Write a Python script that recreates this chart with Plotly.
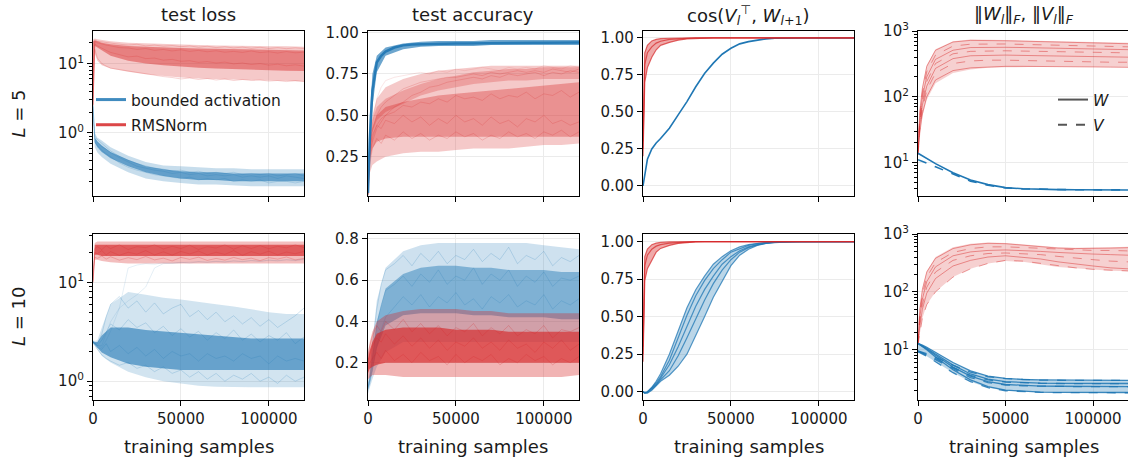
import plotly.graph_objects as go
from plotly.subplots import make_subplots

W_PX, H_PX = 1128, 462
BLUE = (31, 119, 180)
RED = (214, 39, 40)
FONT = "DejaVu Sans"

# ---------------- sample grids ----------------
GC = [0, 1000, 2500, 5000, 10000, 20000, 30000, 40000, 50000, 60000, 70000, 80000,
      90000, 100000, 110000, 120000]
G = [0, 1000, 2500, 5000, 7500, 10000, 15000, 20000, 25000, 30000, 35000, 40000, 45000,
     50000, 55000, 60000, 65000, 70000, 75000, 80000, 85000, 90000, 95000, 100000,
     105000, 110000, 115000, 120000]

# ---------------- L=5 test loss ----------------
loss5_red_hi = [22, 23, 22.5, 22, 21, 20, 19.5, 19, 18.8, 18.5, 18.3, 18, 18, 17.8, 17.8, 17.5]
loss5_red_lo = [2.5, 14, 11, 9.5, 8.5, 7.6, 7.0, 6.6, 6.3, 6.1, 6.0, 5.9, 5.8, 5.7, 5.6, 5.5]
loss5_red_chi = [21, 21.5, 21, 20, 19, 18, 17.5, 17, 16.8, 16.5, 16.3, 16, 16, 15.8, 15.8, 15.5]
loss5_red_clo = [2.5, 18, 17, 15.5, 13, 11, 10, 9.5, 9, 8.7, 8.5, 8.3, 8.1, 8, 7.9, 7.8]
loss5_red_runs = [
    [2.5, 22, 21, 20.5, 20, 19.5, 19, 18.5, 19, 18, 18.5, 17.8, 18.2, 17.5, 18, 17.2, 17.8, 17, 17.5, 16.8, 17.3, 16.6, 17.2, 16.5, 17, 16.4, 16.9, 16.5],
    [2.5, 21, 20, 19, 18.5, 18, 17, 16.8, 16, 16.5, 15.5, 16, 15.2, 15.8, 15, 15.5, 14.8, 15.3, 14.6, 15, 14.5, 15.2, 14.4, 14.8, 14.2, 14.9, 14.3, 14.6],
    [2.5, 19, 18, 16.5, 15.5, 14.5, 13.5, 12.5, 12.8, 11.8, 12, 11.2, 11.5, 10.8, 11, 10.4, 10.7, 10.2, 10.5, 9.9, 10.2, 9.7, 10, 9.5, 9.8, 9.3, 9.6, 9.2],
    [2.5, 16, 12, 10, 9.2, 8.6, 8.2, 7.8, 7.4, 7.2, 6.8, 6.5, 6.3, 6.0, 6.2, 5.9, 6.1, 5.8, 6.0, 5.7, 5.9, 5.7, 5.8, 5.6, 5.7, 5.5, 5.7, 5.5],
]
loss5_blue_hi = [2.6, 1.0, 0.85, 0.78, 0.62, 0.47, 0.38, 0.34, 0.33, 0.32, 0.31, 0.31, 0.3, 0.3, 0.3, 0.3]
loss5_blue_lo = [2.3, 0.62, 0.52, 0.45, 0.36, 0.27, 0.22, 0.2, 0.19, 0.18, 0.18, 0.175, 0.17, 0.17, 0.17, 0.17]
loss5_blue_chi = [2.5, 0.85, 0.75, 0.66, 0.53, 0.41, 0.33, 0.3, 0.28, 0.27, 0.27, 0.26, 0.26, 0.26, 0.26, 0.26]
loss5_blue_clo = [2.4, 0.72, 0.62, 0.53, 0.43, 0.33, 0.27, 0.24, 0.22, 0.21, 0.21, 0.2, 0.2, 0.2, 0.2, 0.2]
loss5_blue_runs = [
    [2.5, 0.85, 0.74, 0.63, 0.58, 0.52, 0.44, 0.38, 0.33, 0.31, 0.29, 0.28, 0.26, 0.27, 0.25, 0.26, 0.24, 0.25, 0.24, 0.25, 0.23, 0.24, 0.23, 0.24, 0.22, 0.24, 0.23, 0.22],
    [2.4, 0.75, 0.66, 0.56, 0.5, 0.45, 0.37, 0.32, 0.29, 0.27, 0.25, 0.24, 0.23, 0.22, 0.23, 0.21, 0.22, 0.21, 0.22, 0.2, 0.21, 0.2, 0.21, 0.19, 0.2, 0.2, 0.19, 0.2],
    [2.5, 0.9, 0.8, 0.7, 0.62, 0.55, 0.46, 0.4, 0.36, 0.33, 0.31, 0.3, 0.28, 0.29, 0.27, 0.28, 0.26, 0.27, 0.26, 0.27, 0.25, 0.26, 0.25, 0.26, 0.24, 0.25, 0.26, 0.24],
]

# ---------------- L=5 test accuracy ----------------
acc5_blue_hi = [0.05, 0.5, 0.75, 0.86, 0.91, 0.935, 0.945, 0.95, 0.95, 0.95, 0.955, 0.955, 0.955, 0.955, 0.955, 0.955]
acc5_blue_lo = [0.0, 0.2, 0.55, 0.76, 0.86, 0.9, 0.915, 0.92, 0.92, 0.92, 0.925, 0.925, 0.925, 0.925, 0.925, 0.925]
acc5_blue_mean = [0.03, 0.35, 0.65, 0.82, 0.86, 0.885, 0.91, 0.923, 0.928, 0.93, 0.932, 0.933, 0.934, 0.935, 0.935, 0.936, 0.936, 0.937, 0.937, 0.938, 0.938, 0.938, 0.939, 0.939, 0.939, 0.94, 0.94, 0.94]
acc5_red_hi = [0.05, 0.35, 0.5, 0.6, 0.67, 0.72, 0.75, 0.77, 0.78, 0.79, 0.8, 0.8, 0.8, 0.8, 0.8, 0.8]
acc5_red_lo = [0.0, 0.15, 0.2, 0.22, 0.25, 0.27, 0.28, 0.28, 0.29, 0.3, 0.3, 0.3, 0.31, 0.32, 0.32, 0.33]
acc5_red_chi = [0.03, 0.3, 0.42, 0.5, 0.55, 0.58, 0.6, 0.62, 0.63, 0.64, 0.65, 0.66, 0.67, 0.68, 0.69, 0.7]
acc5_red_clo = [0.02, 0.22, 0.3, 0.34, 0.36, 0.37, 0.37, 0.37, 0.37, 0.37, 0.37, 0.37, 0.37, 0.37, 0.37, 0.37]
acc5_red_up_lo = [0.02, 0.28, 0.4, 0.47, 0.52, 0.57, 0.62, 0.65, 0.67, 0.69, 0.7, 0.71, 0.71, 0.72, 0.72, 0.72]
acc5_red_up_hi = [0.03, 0.33, 0.47, 0.55, 0.6, 0.65, 0.69, 0.72, 0.74, 0.76, 0.77, 0.78, 0.78, 0.79, 0.79, 0.79]
acc5_red_runs = [
    [0.02, 0.3, 0.42, 0.5, 0.55, 0.58, 0.62, 0.66, 0.68, 0.7, 0.71, 0.72, 0.73, 0.73, 0.74, 0.75, 0.74, 0.76, 0.75, 0.76, 0.77, 0.76, 0.77, 0.76, 0.78, 0.77, 0.76, 0.78],
    [0.02, 0.25, 0.36, 0.44, 0.48, 0.5, 0.55, 0.58, 0.62, 0.64, 0.67, 0.68, 0.7, 0.71, 0.72, 0.73, 0.72, 0.74, 0.73, 0.75, 0.74, 0.75, 0.76, 0.74, 0.76, 0.75, 0.77, 0.76],
    [0.02, 0.24, 0.34, 0.42, 0.46, 0.5, 0.52, 0.56, 0.55, 0.58, 0.57, 0.6, 0.58, 0.62, 0.6, 0.61, 0.59, 0.63, 0.6, 0.62, 0.61, 0.64, 0.6, 0.63, 0.62, 0.65, 0.61, 0.64],
    [0.02, 0.28, 0.38, 0.44, 0.42, 0.47, 0.45, 0.5, 0.46, 0.49, 0.44, 0.48, 0.45, 0.5, 0.46, 0.48, 0.44, 0.49, 0.45, 0.47, 0.43, 0.48, 0.46, 0.5, 0.45, 0.47, 0.44, 0.46],
    [0.02, 0.2, 0.3, 0.36, 0.33, 0.38, 0.35, 0.4, 0.36, 0.39, 0.35, 0.38, 0.36, 0.4, 0.37, 0.39, 0.35, 0.38, 0.36, 0.4, 0.37, 0.39, 0.36, 0.4, 0.38, 0.41, 0.37, 0.4],
]
acc5_red_outlier = [0.02, 0.3, 0.45, 0.6, 0.67, 0.71, 0.73, 0.74, 0.75, 0.76, 0.75, 0.77, 0.76, 0.78, 0.77, 0.78, 0.79, 0.78, 0.77, 0.79, 0.78, 0.79, 0.78, 0.8, 0.79, 0.78, 0.8, 0.79]

# ---------------- L=5 cosine ----------------
cos5_red_runs = [
    [0.3, 0.9, 0.95, 0.98, 0.99, 0.995, 0.998, 1, 1, 1, 1, 1, 1, 1, 1, 1, 1, 1, 1, 1, 1, 1, 1, 1, 1, 1, 1, 1],
    [0.25, 0.82, 0.9, 0.94, 0.965, 0.978, 0.99, 0.995, 0.998, 1, 1, 1, 1, 1, 1, 1, 1, 1, 1, 1, 1, 1, 1, 1, 1, 1, 1, 1],
    [0.2, 0.7, 0.8, 0.87, 0.92, 0.95, 0.97, 0.985, 0.993, 0.997, 1, 1, 1, 1, 1, 1, 1, 1, 1, 1, 1, 1, 1, 1, 1, 1, 1, 1],
]
cos5_blue = [0.0, 0.08, 0.18, 0.25, 0.29, 0.32, 0.39, 0.48, 0.57, 0.67, 0.76, 0.83, 0.89, 0.93, 0.96, 0.975, 0.987, 0.994, 0.998, 1, 1, 1, 1, 1, 1, 1, 1, 1]

# ---------------- L=5 norms ----------------
norm5_red_W = [
    [16, 60, 135, 290, 510, 680, 720, 720, 710, 700, 690, 680, 670, 660, 650, 640],
    [15, 50, 115, 240, 430, 590, 630, 640, 635, 625, 615, 605, 595, 590, 580, 575],
    [15, 45, 100, 200, 370, 510, 560, 570, 565, 560, 555, 550, 540, 530, 525, 520],
    [14, 40, 85, 170, 320, 450, 490, 500, 500, 495, 490, 485, 480, 475, 470, 465],
    [14, 35, 75, 145, 270, 380, 420, 430, 430, 425, 420, 415, 410, 405, 400, 400],
    [13, 32, 65, 125, 230, 320, 350, 360, 360, 355, 350, 345, 340, 340, 335, 335],
    [13, 28, 55, 100, 180, 250, 275, 285, 290, 290, 290, 288, 286, 284, 282, 280],
]
norm5_red_hi = [17, 60, 140, 300, 530, 700, 740, 740, 730, 720, 710, 700, 690, 680, 670, 660]
norm5_red_lo = [13, 28, 50, 90, 160, 230, 260, 275, 280, 285, 285, 285, 285, 280, 280, 280]
norm5_blue_W = [13.8, 13.3, 12.6, 11.5, 9.6, 7.0, 5.4, 4.6, 4.15, 3.98, 3.9, 3.87, 3.85, 3.84, 3.83, 3.82]
norm5_blue_V = [11, 10.8, 10.4, 9.8, 8.6, 6.6, 5.2, 4.5, 4.1, 3.96, 3.9, 3.87, 3.85, 3.84, 3.83, 3.82]

# ---------------- L=10 test loss ----------------
loss10_red_hi = [11, 25, 26, 26, 26, 26, 26, 26, 26, 26, 26, 26, 26, 26, 26, 26]
loss10_red_lo = [10, 17, 17, 16.5, 16, 15.5, 15.5, 15.5, 15.5, 15.5, 15.5, 15.5, 15.5, 15.5, 15.5, 15.5]
loss10_red_chi = [10.5, 24, 24, 24, 24, 24, 24, 24, 24, 24, 24, 24, 24, 24, 24, 24]
loss10_red_clo = [10, 19, 19, 18.5, 18.5, 18.5, 18.5, 18.5, 18.5, 18.5, 18.5, 18.5, 18.5, 18.5, 18.5, 18.5]
loss10_red_runs = [
    [10.5, 22, 23, 21.5, 23.5, 22, 24, 21.5, 23, 22.5, 24, 21.8, 23.2, 22, 23.8, 21.5, 23, 22.3, 24, 21.7, 23.5, 22, 23.6, 21.9, 23.2, 22.4, 24, 22.5],
    [10, 20, 19.5, 21, 19, 20.5, 18.8, 20.2, 19.3, 21, 19, 20.4, 18.9, 20.6, 19.4, 20.8, 19, 20.2, 19.2, 21, 18.8, 20.5, 19.3, 20.7, 19, 20.3, 19.5, 20.6],
    [10, 18, 17.5, 18.5, 17.2, 18.2, 16.8, 17.8, 17, 18.3, 16.9, 17.6, 16.5, 17.9, 17.1, 18, 16.7, 17.5, 16.8, 17.9, 17, 17.6, 16.6, 17.8, 17.2, 18.1, 16.9, 17.5],
]
loss10_blue_hi = [2.6, 2.55, 2.6, 3.5, 6, 8, 7.5, 7, 6.7, 6.3, 6, 5.7, 5.3, 5, 4.8, 4.8]
loss10_blue_lo = [2.4, 2.3, 2.1, 1.8, 1.55, 1.25, 1.1, 1.0, 0.95, 0.9, 0.88, 0.87, 0.87, 0.87, 0.87, 0.87]
loss10_blue_chi = [2.55, 2.5, 2.5, 2.9, 3.5, 3.5, 3.3, 3.2, 3.1, 3.0, 2.9, 2.8, 2.7, 2.7, 2.7, 2.7]
loss10_blue_clo = [2.45, 2.35, 2.2, 1.95, 1.75, 1.5, 1.4, 1.35, 1.3, 1.3, 1.3, 1.3, 1.3, 1.3, 1.3, 1.3]
loss10_blue_runs = [
    [2.5, 2.4, 2.3, 2.6, 3.2, 3.8, 3.3, 4.2, 3.5, 3.9, 3.1, 3.6, 2.9, 3.4, 2.8, 3.2, 2.6, 3.1, 2.7, 3.3, 2.6, 3.0, 2.5, 2.9, 2.6, 3.1, 2.4, 2.8],
    [2.5, 2.35, 2.2, 2.1, 2.4, 2.0, 2.3, 1.9, 2.2, 1.8, 2.1, 1.7, 2.0, 1.8, 1.9, 1.6, 1.9, 1.7, 1.8, 1.6, 1.9, 1.7, 1.8, 1.5, 1.8, 1.6, 1.7, 1.6],
    [2.45, 2.3, 2.1, 1.85, 1.7, 1.6, 1.45, 1.55, 1.35, 1.45, 1.25, 1.4, 1.2, 1.3, 1.1, 1.25, 1.05, 1.2, 1.0, 1.15, 1.05, 1.2, 1.0, 1.1, 0.95, 1.15, 1.0, 1.1],
    [2.5, 2.4, 2.4, 3.0, 4.5, 6.0, 7.2, 5.5, 6.5, 5.0, 6.2, 4.8, 5.5, 6.0, 4.5, 5.2, 4.2, 5.0, 4.0, 4.6, 3.8, 4.4, 3.6, 4.2, 3.5, 4.0, 4.6, 5.5],
]
loss10_blue_outliers = [
    [2.5, 2.4, 2.3, 2.2, 2.6, 3.2, 5.5, 14, 15, 15.5, 15.3, 15.8, 15.6, 16, 15.7, 16.2, 15.9, 16.3, 16, 16.5, 16.2, 16.6, 16.3, 16.8, 16.5, 16.9, 16.6, 17],
    [2.5, 2.4, 2.3, 2.3, 3.0, 4.0, 5.5, 6.5, 7.5, 9.0, 14, 15.5, 15.7, 15.9, 16, 16.2, 16.1, 16.4, 16.2, 16.5, 16.3, 16.7, 16.4, 16.8, 16.6, 17, 16.8, 17.2],
]

# ---------------- L=10 test accuracy ----------------
acc10_blue_hi = [0.1, 0.15, 0.3, 0.5, 0.66, 0.74, 0.77, 0.78, 0.78, 0.78, 0.78, 0.78, 0.78, 0.77, 0.76, 0.75]
acc10_blue_chi = [0.09, 0.13, 0.24, 0.4, 0.56, 0.63, 0.66, 0.67, 0.67, 0.66, 0.66, 0.65, 0.65, 0.65, 0.64, 0.64]
acc10_blue_clo = [0.07, 0.1, 0.16, 0.27, 0.38, 0.43, 0.44, 0.44, 0.44, 0.43, 0.43, 0.42, 0.42, 0.42, 0.41, 0.41]
acc10_blue_lo = [0.05, 0.08, 0.12, 0.18, 0.25, 0.3, 0.3, 0.3, 0.3, 0.3, 0.3, 0.3, 0.3, 0.3, 0.3, 0.3]
acc10_blue_runs = [
    [0.08, 0.12, 0.22, 0.38, 0.48, 0.55, 0.58, 0.62, 0.57, 0.63, 0.59, 0.65, 0.58, 0.62, 0.6, 0.66, 0.58, 0.63, 0.6, 0.65, 0.57, 0.62, 0.59, 0.64, 0.57, 0.61, 0.6, 0.62],
    [0.07, 0.1, 0.16, 0.28, 0.36, 0.42, 0.47, 0.52, 0.48, 0.53, 0.47, 0.52, 0.49, 0.54, 0.48, 0.51, 0.46, 0.52, 0.49, 0.53, 0.47, 0.5, 0.48, 0.53, 0.46, 0.5, 0.48, 0.51],
    [0.09, 0.14, 0.28, 0.46, 0.58, 0.65, 0.68, 0.72, 0.67, 0.73, 0.69, 0.74, 0.68, 0.72, 0.7, 0.75, 0.69, 0.73, 0.7, 0.76, 0.68, 0.72, 0.7, 0.74, 0.67, 0.71, 0.69, 0.72],
]
acc10_red_hi = [0.25, 0.3, 0.35, 0.4, 0.43, 0.45, 0.46, 0.46, 0.46, 0.45, 0.45, 0.44, 0.44, 0.44, 0.44, 0.44]
acc10_red_lo = [0.12, 0.13, 0.14, 0.14, 0.14, 0.13, 0.13, 0.13, 0.13, 0.13, 0.13, 0.13, 0.13, 0.13, 0.13, 0.14]
acc10_red_chi = [0.22, 0.26, 0.3, 0.34, 0.36, 0.37, 0.37, 0.37, 0.36, 0.36, 0.36, 0.35, 0.35, 0.35, 0.35, 0.35]
acc10_red_clo = [0.15, 0.17, 0.18, 0.19, 0.2, 0.2, 0.2, 0.2, 0.2, 0.2, 0.2, 0.2, 0.2, 0.2, 0.2, 0.2]
acc10_red_runs = [
    [0.2, 0.24, 0.28, 0.32, 0.3, 0.34, 0.29, 0.33, 0.28, 0.32, 0.27, 0.31, 0.26, 0.3, 0.28, 0.32, 0.27, 0.3, 0.26, 0.31, 0.27, 0.29, 0.25, 0.3, 0.27, 0.31, 0.26, 0.29],
    [0.17, 0.2, 0.22, 0.25, 0.22, 0.26, 0.21, 0.24, 0.2, 0.25, 0.21, 0.23, 0.19, 0.24, 0.2, 0.23, 0.21, 0.24, 0.19, 0.22, 0.2, 0.24, 0.21, 0.23, 0.19, 0.22, 0.2, 0.23],
    [0.23, 0.28, 0.33, 0.38, 0.35, 0.4, 0.36, 0.41, 0.35, 0.39, 0.34, 0.38, 0.33, 0.37, 0.35, 0.39, 0.33, 0.37, 0.34, 0.38, 0.33, 0.36, 0.34, 0.38, 0.32, 0.36, 0.35, 0.37],
]

# ---------------- L=10 cosine ----------------
cos10_red_runs = [
    [0.3, 0.9, 0.95, 0.98, 0.99, 0.995, 0.998, 1, 1, 1, 1, 1, 1, 1, 1, 1, 1, 1, 1, 1, 1, 1, 1, 1, 1, 1, 1, 1],
    [0.25, 0.84, 0.91, 0.95, 0.97, 0.98, 0.99, 0.995, 0.998, 1, 1, 1, 1, 1, 1, 1, 1, 1, 1, 1, 1, 1, 1, 1, 1, 1, 1, 1],
    [0.2, 0.74, 0.82, 0.88, 0.93, 0.955, 0.975, 0.988, 0.995, 0.998, 1, 1, 1, 1, 1, 1, 1, 1, 1, 1, 1, 1, 1, 1, 1, 1, 1, 1],
]
cos10_blue_runs = [
    [0, -0.005, 0.0, 0.03, 0.07, 0.12, 0.25, 0.41, 0.56, 0.68, 0.77, 0.85, 0.9, 0.94, 0.965, 0.98, 0.99, 0.995, 0.998, 1, 1, 1, 1, 1, 1, 1, 1, 1],
    [0, -0.005, 0.0, 0.025, 0.06, 0.1, 0.21, 0.36, 0.51, 0.64, 0.74, 0.82, 0.88, 0.93, 0.955, 0.975, 0.987, 0.994, 0.997, 1, 1, 1, 1, 1, 1, 1, 1, 1],
    [0, -0.005, -0.005, 0.02, 0.05, 0.09, 0.18, 0.3, 0.44, 0.57, 0.68, 0.77, 0.85, 0.9, 0.94, 0.965, 0.98, 0.99, 0.996, 0.999, 1, 1, 1, 1, 1, 1, 1, 1],
    [0, -0.01, -0.005, 0.015, 0.045, 0.08, 0.14, 0.24, 0.36, 0.49, 0.61, 0.72, 0.81, 0.88, 0.93, 0.96, 0.978, 0.99, 0.995, 0.998, 1, 1, 1, 1, 1, 1, 1, 1],
    [0, -0.01, -0.01, 0.01, 0.04, 0.07, 0.11, 0.17, 0.25, 0.37, 0.5, 0.63, 0.74, 0.84, 0.91, 0.95, 0.975, 0.988, 0.995, 0.998, 1, 1, 1, 1, 1, 1, 1, 1],
]

# ---------------- L=10 norms ----------------
norm10_red_W = [
    [14, 50, 110, 220, 380, 560, 650, 690, 680, 640, 600, 570, 560, 560, 570, 580],
    [13, 42, 90, 180, 320, 480, 560, 600, 600, 580, 560, 540, 530, 520, 520, 510],
    [13, 36, 75, 150, 270, 420, 490, 520, 530, 520, 500, 480, 460, 450, 440, 430],
    [13, 30, 60, 120, 220, 350, 420, 460, 470, 460, 440, 410, 380, 360, 340, 330],
    [13, 25, 50, 95, 170, 280, 350, 400, 420, 400, 370, 330, 300, 280, 260, 250],
    [12, 20, 35, 60, 100, 180, 250, 310, 350, 340, 310, 280, 260, 245, 235, 230],
]
norm10_red_hi = [14, 52, 115, 230, 400, 590, 680, 710, 700, 660, 620, 590, 580, 580, 590, 600]
norm10_red_lo = [12, 20, 35, 60, 100, 180, 250, 310, 340, 330, 300, 270, 255, 240, 232, 228]
norm10_blue_W = [
    [12.8, 12.5, 12, 11, 9, 6, 4.3, 3.5, 3.2, 3.05, 3.0, 2.98, 2.96, 2.95, 2.95, 2.95],
    [12.8, 12.4, 11.8, 10.6, 8.4, 5.4, 3.8, 3.1, 2.8, 2.7, 2.65, 2.62, 2.6, 2.6, 2.6, 2.6],
    [12.8, 12.3, 11.6, 10.3, 8.0, 5.0, 3.5, 2.8, 2.5, 2.4, 2.35, 2.33, 2.32, 2.3, 2.3, 2.3],
    [12.8, 12.2, 11.4, 10.0, 7.5, 4.5, 3.0, 2.3, 2.0, 1.9, 1.85, 1.83, 1.82, 1.82, 1.82, 1.82],
]
norm10_blue_V = [
    [9.5, 9.3, 9.0, 8.5, 7.4, 5.4, 4.1, 3.4, 3.15, 3.02, 2.98, 2.96, 2.95, 2.94, 2.94, 2.94],
    [9.4, 9.2, 8.8, 8.2, 7.0, 4.9, 3.6, 3.0, 2.75, 2.66, 2.62, 2.6, 2.58, 2.58, 2.58, 2.58],
    [9.3, 9.1, 8.7, 8.0, 6.7, 4.6, 3.3, 2.7, 2.45, 2.37, 2.33, 2.31, 2.3, 2.3, 2.3, 2.3],
    [9.2, 8.9, 8.5, 7.7, 6.2, 4.0, 2.8, 2.2, 1.95, 1.87, 1.83, 1.81, 1.8, 1.8, 1.8, 1.8],
]

# ---------------- text ----------------
col_titles = ["test loss", "test accuracy",
              "cos(<i>V</i><sub><i>l</i></sub><sup>⊤</sup>, <i>W</i><sub><i>l</i>+1</sub>)",
              "‖<i>W</i><sub><i>l</i></sub>‖<sub><i>F</i></sub>, ‖<i>V</i><sub><i>l</i></sub>‖<sub><i>F</i></sub>"]
row_titles = ["<i>L</i> = 5", "<i>L</i> = 10"]
x_label = "training samples"
legend_names = ["bounded activation", "RMSNorm"]
x_ticks = [0, 50000, 100000]


def rgba(c, a):
    return f"rgba({c[0]},{c[1]},{c[2]},{a})"


fig = make_subplots(rows=2, cols=4)


def band(r, c, x, lo, hi, color, alpha):
    fig.add_trace(go.Scatter(x=x, y=lo, mode="lines", line=dict(width=0, color=rgba(color, 0)),
                             showlegend=False, hoverinfo="skip"), row=r, col=c)
    fig.add_trace(go.Scatter(x=x, y=hi, mode="lines", line=dict(width=0, color=rgba(color, 0)),
                             fill="tonexty", fillcolor=rgba(color, alpha),
                             showlegend=False, hoverinfo="skip"), row=r, col=c)


def line(r, c, x, y, color, alpha, width=1.0, dash="solid"):
    fig.add_trace(go.Scatter(x=x, y=y, mode="lines",
                             line=dict(width=width, color=rgba(color, alpha), dash=dash),
                             showlegend=False, hoverinfo="skip"), row=r, col=c)


# (1,1) loss L=5
band(1, 1, GC, loss5_blue_lo, loss5_blue_hi, BLUE, 0.25)
band(1, 1, GC, loss5_blue_clo, loss5_blue_chi, BLUE, 0.6)
for y in loss5_blue_runs:
    line(1, 1, G, y, BLUE, 0.25, width=0.8)
band(1, 1, GC, loss5_red_lo, loss5_red_hi, RED, 0.25)
band(1, 1, GC, loss5_red_clo, loss5_red_chi, RED, 0.45)
for y in loss5_red_runs:
    line(1, 1, G, y, RED, 0.25, width=0.8)

# (1,2) acc L=5
band(1, 2, GC, acc5_red_lo, acc5_red_hi, RED, 0.25)
band(1, 2, GC, acc5_red_clo, acc5_red_chi, RED, 0.35)
band(1, 2, GC, acc5_red_up_lo, acc5_red_up_hi, RED, 0.25)
for y in acc5_red_runs:
    line(1, 2, G, y, RED, 0.25, width=0.8)
line(1, 2, G, acc5_red_outlier, RED, 0.15, width=0.8)
band(1, 2, GC, acc5_blue_lo, acc5_blue_hi, BLUE, 0.65)
line(1, 2, G, acc5_blue_mean, BLUE, 0.9, width=2.5)

# (1,3) cos L=5
line(1, 3, G, cos5_blue, BLUE, 1.0, width=1.6)
band(1, 3, G, cos5_red_runs[2], cos5_red_runs[0], RED, 0.4)
for y in cos5_red_runs:
    line(1, 3, G, y, RED, 0.7, width=1.2)

# (1,4) norms L=5
band(1, 4, GC, norm5_red_lo, norm5_red_hi, RED, 0.22)
for i, y in enumerate(norm5_red_W):
    line(1, 4, GC, y, RED, 0.45, dash="solid" if i % 2 == 0 else "dash")
line(1, 4, GC, norm5_blue_W, BLUE, 1.0, width=1.6)
line(1, 4, GC, norm5_blue_V, BLUE, 1.0, width=1.6, dash="dash")

# (2,1) loss L=10
band(2, 1, GC, loss10_blue_lo, loss10_blue_hi, BLUE, 0.2)
band(2, 1, GC, loss10_blue_clo, loss10_blue_chi, BLUE, 0.6)
for y in loss10_blue_runs:
    line(2, 1, G, y, BLUE, 0.25, width=0.8)
for y in loss10_blue_outliers:
    line(2, 1, G, y, BLUE, 0.15, width=0.8)
band(2, 1, GC, loss10_red_lo, loss10_red_hi, RED, 0.3)
band(2, 1, GC, loss10_red_clo, loss10_red_chi, RED, 0.65)
for y in loss10_red_runs:
    line(2, 1, G, y, RED, 0.3, width=0.8)

# (2,2) acc L=10
band(2, 2, GC, acc10_blue_lo, acc10_blue_hi, BLUE, 0.22)
band(2, 2, GC, acc10_blue_clo, acc10_blue_chi, BLUE, 0.45)
for y in acc10_blue_runs:
    line(2, 2, G, y, BLUE, 0.25, width=0.8)
band(2, 2, GC, acc10_red_lo, acc10_red_hi, RED, 0.35)
band(2, 2, GC, acc10_red_clo, acc10_red_chi, RED, 0.65)
for y in acc10_red_runs:
    line(2, 2, G, y, RED, 0.3, width=0.8)

# (2,3) cos L=10
band(2, 3, G, cos10_blue_runs[4], cos10_blue_runs[0], BLUE, 0.3)
for y in cos10_blue_runs:
    line(2, 3, G, y, BLUE, 0.75, width=1.2)
band(2, 3, G, cos10_red_runs[2], cos10_red_runs[0], RED, 0.4)
for y in cos10_red_runs:
    line(2, 3, G, y, RED, 0.7, width=1.2)

# (2,4) norms L=10
band(2, 4, GC, norm10_red_lo, norm10_red_hi, RED, 0.22)
for i, y in enumerate(norm10_red_W):
    line(2, 4, GC, y, RED, 0.45, dash="solid" if i % 2 == 0 else "dash")
band(2, 4, GC, norm10_blue_V[3], norm10_blue_W[0], BLUE, 0.3)
for y in norm10_blue_W:
    line(2, 4, GC, y, BLUE, 0.85, width=1.3)
for y in norm10_blue_V:
    line(2, 4, GC, y, BLUE, 0.85, width=1.3, dash="dash")

# legends
for name, col, grp in [(legend_names[0], BLUE, "a"), (legend_names[1], RED, "b")]:
    fig.add_trace(go.Scatter(x=[None], y=[None], mode="lines", name=name, legendgroup=grp,
                             line=dict(width=3, color=rgba(col, 0.85)), legend="legend"),
                  row=1, col=1)
for name, dash, grp in [("<i>W</i>", "solid", "w"), ("<i>V</i>", "dash", "v")]:
    fig.add_trace(go.Scatter(x=[None], y=[None], mode="lines", name=name, legendgroup=grp,
                             line=dict(width=2, color="#555555", dash=dash), legend="legend2"),
                  row=1, col=4)

# ---------------- layout ----------------
col_px = [(93, 304), (368, 579), (643, 854), (918, 1128)]
row_px = [(31, 196), (234, 400)]

y_ranges = {
    (1, 1): [-0.91, 1.47], (1, 2): [0.012, 1.01], (1, 3): [-0.068, 1.047], (1, 4): [0.49, 3.0],
    (2, 1): [-0.19, 1.49], (2, 2): [0.019, 0.824], (2, 3): [-0.055, 1.051], (2, 4): [0.13, 3.0],
}
log_cells = {(1, 1), (1, 4), (2, 1), (2, 4)}

axis_common = dict(showline=True, linecolor="black", linewidth=1.25, mirror=True,
                   ticks="outside", ticklen=5, tickwidth=1.2, tickcolor="black",
                   showgrid=True, gridcolor="#ebebeb", gridwidth=1, zeroline=False,
                   automargin=False,
                   tickfont=dict(family=FONT, size=15, color="#1a1a1a"))

minor_vals = [m * 10 ** e for e in range(-1, 3) for m in range(2, 10)]

for r in (1, 2):
    for c in (1, 2, 3, 4):
        x0, x1 = col_px[c - 1]
        ytop, ybot = row_px[r - 1]
        xa = dict(axis_common)
        xa.update(domain=[x0 / W_PX, x1 / W_PX], range=[0, 120000], tickmode="array",
                  tickvals=x_ticks, ticktext=[str(v) for v in x_ticks],
                  showticklabels=(r == 2))
        fig.update_xaxes(xa, row=r, col=c)
        ya = dict(axis_common)
        ya.update(domain=[1 - ybot / H_PX, 1 - ytop / H_PX], range=y_ranges[(r, c)])
        if c == 4:
            ya.update(mirror=False)
        if (r, c) in log_cells:
            if c == 1:
                tv = [1, 10]
                tt = ["10<sup>0</sup>", "10<sup>1</sup>"]
            else:
                tv = [10, 100, 1000]
                tt = ["10<sup>1</sup>", "10<sup>2</sup>", "10<sup>3</sup>"]
            ya.update(type="log", tickmode="array", tickvals=tv, ticktext=tt,
                      minor=dict(tickmode="array", tickvals=minor_vals, ticks="outside",
                                 ticklen=3, tickwidth=1, tickcolor="black", showgrid=False))
        elif c == 2 and r == 2:
            ya.update(tickmode="array", tickvals=[0.2, 0.4, 0.6, 0.8], tickformat=".1f")
        elif c == 2:
            ya.update(tickmode="array", tickvals=[0.25, 0.5, 0.75, 1.0], tickformat=".2f")
        else:
            ya.update(tickmode="array", tickvals=[0.0, 0.25, 0.5, 0.75, 1.0], tickformat=".2f")
        fig.update_yaxes(ya, row=r, col=c)

annotations = []
for c, t in enumerate(col_titles):
    x0, x1 = col_px[c]
    xc = (x0 + x1) / 2 if c < 3 else (918 + 1129) / 2
    annotations.append(dict(text=t, x=xc / W_PX, y=1 - 15 / H_PX, xref="paper", yref="paper",
                            xanchor="center", yanchor="middle", showarrow=False,
                            font=dict(family=FONT, size=18, color="#1a1a1a")))
for r, t in enumerate(row_titles):
    ytop, ybot = row_px[r]
    annotations.append(dict(text=t, x=18 / W_PX, y=1 - (ytop + ybot) / 2 / H_PX, xref="paper",
                            yref="paper", xanchor="center", yanchor="middle", textangle=-90,
                            showarrow=False, font=dict(family=FONT, size=18, color="#1a1a1a")))
for c in range(4):
    x0, x1 = col_px[c]
    xc = (x0 + x1) / 2 if c < 3 else (918 + 1129) / 2
    annotations.append(dict(text=x_label, x=xc / W_PX, y=1 - 446 / H_PX, xref="paper",
                            yref="paper", xanchor="center", yanchor="middle", showarrow=False,
                            font=dict(family=FONT, size=18, color="#1a1a1a")))

fig.update_layout(
    width=W_PX, height=H_PX, margin=dict(l=0, r=0, t=0, b=0, autoexpand=False),
    paper_bgcolor="white", plot_bgcolor="white",
    font=dict(family=FONT, color="#1a1a1a"),
    annotations=annotations,
    legend=dict(x=91 / W_PX, y=1 - 83 / H_PX, xanchor="left", yanchor="top",
                bgcolor="rgba(0,0,0,0)", font=dict(family=FONT, size=15.5, color="#1a1a1a"),
                itemwidth=30, tracegroupgap=2),
    legend2=dict(x=1053 / W_PX, y=1 - 83 / H_PX, xanchor="left", yanchor="top",
                 bgcolor="rgba(0,0,0,0)", font=dict(family=FONT, size=15.5, color="#1a1a1a"),
                 itemwidth=30, tracegroupgap=2),
    showlegend=True,
)

fig.write_html("out.html", config={"displayModeBar": False},
               post_script="document.body.style.margin='0';document.body.style.padding='0';")
